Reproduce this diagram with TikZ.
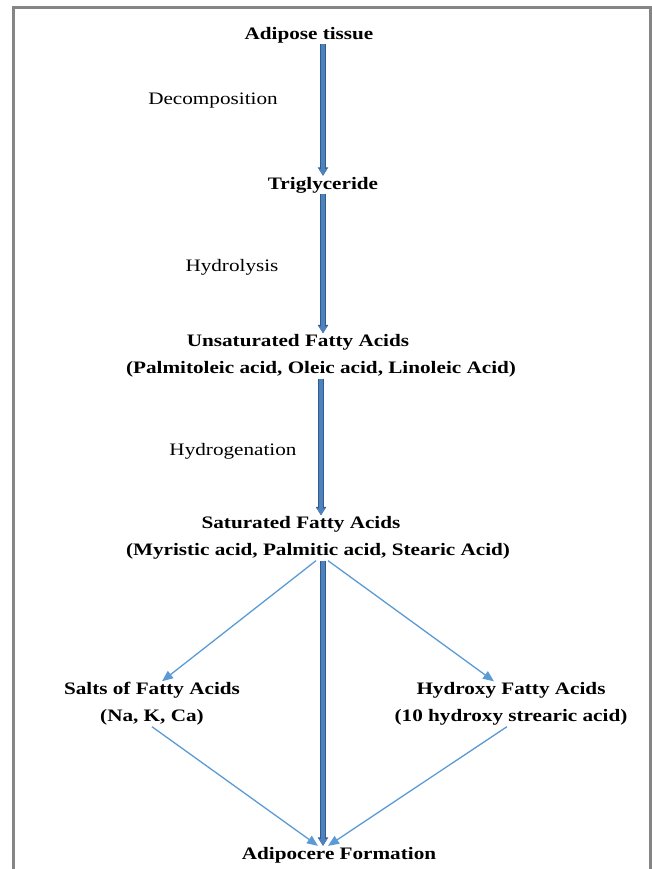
\documentclass[tikz,border=0pt]{standalone}
\usepackage{fontspec}
\setmainfont{Liberation Serif}[FakeStretch=1.21]
\usepackage{tikz}
\usetikzlibrary{arrows.meta}
\definecolor{thickblue}{HTML}{4F81BD}
\definecolor{thickedge}{HTML}{2F5C8F}
\definecolor{thinblue}{HTML}{5B9BD5}
\definecolor{framegray}{HTML}{858585}

\begin{document}
\begin{tikzpicture}[
  x=1pt, y=-1pt,
  compound/.style={align=center, inner sep=1pt,
                   font=\fontsize{17.5}{27}\selectfont\bfseries},
  reaction/.style={inner sep=1pt, font=\fontsize{17.5}{20}\selectfont},
  mainarr/.style={line width=3.6pt, draw=thickblue, -{Triangle[length=7pt,width=8pt]},
                  preaction={draw=thickedge, line width=5.4pt,
                             -{Triangle[length=8.5pt,width=10pt]}}},
  sidearr/.style={draw=thinblue, line width=1.3pt, -{Triangle[length=11pt,width=9pt]}}
]
\useasboundingbox (0,0) rectangle (652,869);
\draw[framegray, line width=3pt] (13,869) -- (13,7.5) -- (650,7.5) -- (650,869);

\node[compound] (adipose)  at (309,35)  {Adipose tissue};
\node[compound] (trig)     at (323,185) {Triglyceride};
\node[compound] (unsat)    at (321,356) {Unsaturated Fatty Acids\hspace*{46pt}\\
                                         (Palmitoleic acid, Oleic acid, Linoleic Acid)};
\node[compound] (sat)      at (318,538) {Saturated Fatty Acids\hspace*{34pt}\\
                                         (Myristic acid, Palmitic acid, Stearic Acid)};
\node[compound] (salts)    at (152,704) {Salts of Fatty Acids\\ (Na, K, Ca)};
\node[compound] (hydroxy)  at (511,704) {Hydroxy Fatty Acids\\ (10 hydroxy strearic acid)};
\node[compound] (adipocere) at (339,855) {Adipocere Formation};

\node[reaction] (decomp) at (213,101) {Decomposition};
\node[reaction] (hydrol) at (232,267) {Hydrolysis};
\node[reaction] (hydrog) at (233,451) {Hydrogenation};

\draw[mainarr] (adipose.south -| trig.north) -- (trig.north);
\draw[mainarr] (trig.south) -- (trig.south |- unsat.north);
\draw[mainarr] (unsat.south) -- (sat.north -| unsat.south);
\draw[mainarr] ([xshift=5pt]sat.south) -- ([xshift=5pt]sat.south |- adipocere.north);

\draw[sidearr] ([xshift=-2pt]sat.south) -- ([xshift=10pt]salts.north);
\draw[sidearr] ([xshift=10pt]sat.south) -- ([xshift=-17pt]hydroxy.north);
\draw[sidearr] (salts.south) -- ([xshift=-21pt]adipocere.north);
\draw[sidearr] ([xshift=-4pt]hydroxy.south) -- ([xshift=-11pt]adipocere.north);
\end{tikzpicture}
\end{document}
